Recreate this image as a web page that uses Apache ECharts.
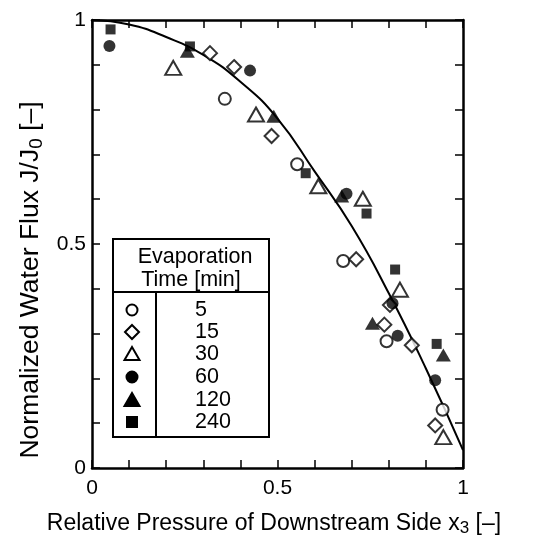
<!DOCTYPE html>
<html>
<head>
<meta charset="utf-8">
<script src="https://cdn.jsdelivr.net/npm/echarts@6/dist/echarts.min.js"></script>
<style>
  html, body { margin: 0; padding: 0; background: #fff; }
  #chart { width: 550px; height: 542px; }
</style>
</head>
<body>
<div id="chart"></div>
<script>
// Evaporation times (min) for the legend table
const evapTimes = ['5', '15', '30', '60', '120', '240'];

// Relative pressure x3 and normalized flux J/J0 for each evaporation time
const t5x = [0.358, 0.553, 0.677, 0.794, 0.945];
const t5y = [0.824, 0.678, 0.462, 0.283, 0.130];

const t15x = [0.318, 0.383, 0.484, 0.712, 0.803, 0.788, 0.862, 0.925];
const t15y = [0.926, 0.895, 0.741, 0.466, 0.364, 0.320, 0.274, 0.095];

const t30x = [0.219, 0.442, 0.610, 0.730, 0.830, 0.947];
const t30y = [0.893, 0.789, 0.629, 0.601, 0.398, 0.069];

const t60x = [0.047, 0.426, 0.686, 0.810, 0.824, 0.925];
const t60y = [0.942, 0.887, 0.612, 0.368, 0.295, 0.196];

const t120x = [0.257, 0.490, 0.673, 0.756, 0.947];
const t120y = [0.930, 0.785, 0.607, 0.323, 0.252];

const t240x = [0.050, 0.264, 0.576, 0.740, 0.817, 0.929];
const t240y = [0.979, 0.941, 0.658, 0.568, 0.443, 0.277];

// Model curve
const curveX = [0, 0.1, 0.2, 0.3, 0.4, 0.5, 0.6, 0.7, 0.8, 0.9, 1.0];
const curveY = [1.0, 0.99, 0.962, 0.922, 0.862, 0.78, 0.662, 0.54, 0.39, 0.222, 0.04];

// Labelled ticks on both axes
const xTickLabels = [0, 0.5, 1];
const yTickLabels = [0, 0.5, 1];

const FONT = 'Liberation Sans';
const zip = (xs, ys) => xs.map((x, i) => [x, ys[i]]);

const openStyle = { color: '#fff', borderColor: '#000', borderWidth: 2 };
const fillStyle = { color: '#000', borderColor: '#000', borderWidth: 0 };

const seriesDefs = [
  { name: evapTimes[0], x: t5x, y: t5y, symbol: 'circle', size: 12, style: openStyle },
  { name: evapTimes[1], x: t15x, y: t15y, symbol: 'diamond', size: 14, style: openStyle },
  { name: evapTimes[2], x: t30x, y: t30y, symbol: 'triangle', size: [16, 14], style: openStyle },
  { name: evapTimes[3], x: t60x, y: t60y, symbol: 'circle', size: 12, style: fillStyle },
  { name: evapTimes[4], x: t120x, y: t120y, symbol: 'triangle', size: [15, 13], style: fillStyle },
  { name: evapTimes[5], x: t240x, y: t240y, symbol: 'rect', size: 10, style: fillStyle }
];

const tickFmt = arr => v => (arr.some(t => Math.abs(t - v) < 1e-6) ? String(v) : '');

const frameLine = { show: true, onZero: false, lineStyle: { color: '#000', width: 2.5 } };
const innerTick = { show: true, inside: true, length: 8, lineStyle: { color: '#000', width: 1.5 } };

const chart = echarts.init(document.getElementById('chart'), null, { renderer: 'canvas' });

// Legend table geometry
const box = { x: 113, y: 239, w: 156, h: 198, headerH: 53, colX: 156 };
const rowY = [310, 332, 354, 377, 400, 422];
const symX = 132;
const LEG_FONT = '21.5px "' + FONT + '"';
const legendSym = [];
rowY.forEach((ry, i) => {
  const s = seriesDefs[i];
  const open = s.style === openStyle;
  const stroke = { stroke: '#000', lineWidth: 2, fill: open ? '#fff' : '#000' };
  if (s.symbol === 'circle') {
    legendSym.push({ type: 'circle', shape: { cx: symX, cy: ry, r: 5.5 }, style: stroke });
  } else if (s.symbol === 'diamond') {
    legendSym.push({ type: 'polygon', shape: { points: [[symX, ry - 7], [symX + 7, ry], [symX, ry + 7], [symX - 7, ry]] }, style: stroke });
  } else if (s.symbol === 'triangle') {
    legendSym.push({ type: 'polygon', shape: { points: [[symX, ry - 7], [symX + 7.5, ry + 6], [symX - 7.5, ry + 6]] }, style: stroke });
  } else {
    legendSym.push({ type: 'rect', shape: { x: symX - 5, y: ry - 5, width: 10, height: 10 }, style: stroke });
  }
  legendSym.push({
    type: 'text', x: 195, y: ry,
    style: { text: evapTimes[i], font: LEG_FONT, fill: '#000', verticalAlign: 'middle' }
  });
});

const option = {
  animation: false,
  backgroundColor: '#fff',
  grid: { left: 92, right: 87, top: 20, bottom: 71 },
  xAxis: [
    {
      type: 'value', min: 0, max: 1, interval: 0.1, position: 'bottom',
      name: '{t|Relative Pressure of Downstream Side x}{s|3}{t| [–]}',
      nameLocation: 'middle', nameGap: 42,
      nameTextStyle: {
        padding: [0, 7, 0, 0],
        rich: {
          t: { fontFamily: FONT, fontSize: 23, color: '#000', lineHeight: 27 },
          s: { fontFamily: FONT, fontSize: 17, color: '#000', lineHeight: 27, padding: [10, 0, 0, 0] }
        }
      },
      axisLine: frameLine, axisTick: innerTick, splitLine: { show: false },
      axisLabel: { formatter: tickFmt(xTickLabels), fontFamily: FONT, fontSize: 21, color: '#000', margin: 10, showMinLabel: true, showMaxLabel: true }
    },
    {
      type: 'value', min: 0, max: 1, interval: 0.1, position: 'top',
      axisLine: frameLine, axisTick: innerTick, axisLabel: { show: false }, splitLine: { show: false }
    }
  ],
  yAxis: [
    {
      type: 'value', min: 0, max: 1, interval: 0.1, position: 'left',
      name: '{t|Normalized Water Flux J/J}{s|0}{t| [–]}',
      nameLocation: 'middle', nameGap: 40, nameRotate: 90,
      nameTextStyle: {
        padding: [0, 72, 0, 0],
        rich: {
          t: { fontFamily: FONT, fontSize: 26.5, color: '#000', lineHeight: 30 },
          s: { fontFamily: FONT, fontSize: 19, color: '#000', lineHeight: 30, padding: [11, 0, 0, 0] }
        }
      },
      axisLine: frameLine, axisTick: innerTick, splitLine: { show: false },
      axisLabel: { formatter: tickFmt(yTickLabels), fontFamily: FONT, fontSize: 21, color: '#000', margin: 6, showMinLabel: true, showMaxLabel: true }
    },
    {
      type: 'value', min: 0, max: 1, interval: 0.1, position: 'right',
      axisLine: frameLine, axisTick: innerTick, axisLabel: { show: false }, splitLine: { show: false }
    }
  ],
  series: [
    {
      type: 'line', name: 'model', smooth: true, showSymbol: false, silent: true,
      data: zip(curveX, curveY),
      lineStyle: { color: '#000', width: 2 }, z: 2
    }
  ].concat(seriesDefs.map(s => ({
    type: 'scatter', name: s.name, data: zip(s.x, s.y),
    symbol: s.symbol, symbolSize: s.size, itemStyle: s.style, z: 3
  }))),
  graphic: [
    { type: 'rect', shape: { x: box.x, y: box.y, width: box.w, height: box.h }, style: { fill: '#fff', stroke: '#000', lineWidth: 2 }, z: 10 },
    { type: 'line', shape: { x1: box.x, y1: box.y + box.headerH, x2: box.x + box.w, y2: box.y + box.headerH }, style: { stroke: '#000', lineWidth: 2 }, z: 10 },
    { type: 'line', shape: { x1: box.colX, y1: box.y + box.headerH, x2: box.colX, y2: box.y + box.h }, style: { stroke: '#000', lineWidth: 2 }, z: 10 },
    { type: 'text', x: 195, y: 257, style: { text: 'Evaporation', font: LEG_FONT, fill: '#000', align: 'center', verticalAlign: 'middle' }, z: 10 },
    { type: 'text', x: 191, y: 280, style: { text: 'Time [min]', font: LEG_FONT, fill: '#000', align: 'center', verticalAlign: 'middle' }, z: 10 }
  ].concat(legendSym.map(g => Object.assign({ z: 10 }, g)))
};

chart.setOption(option);
</script>
</body>
</html>
